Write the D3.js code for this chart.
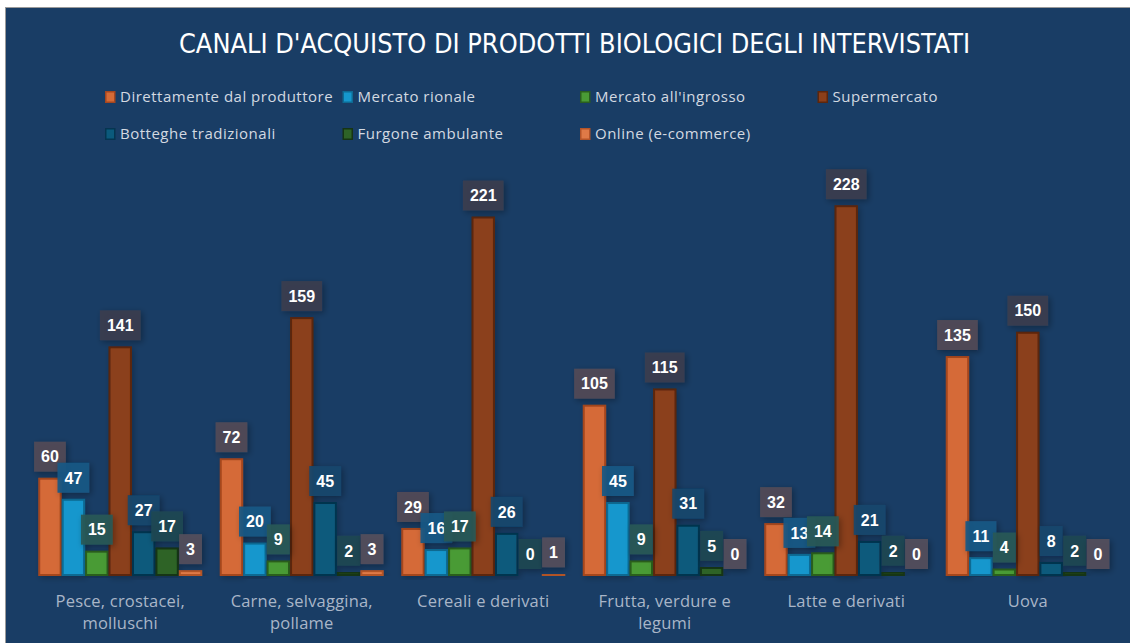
<!DOCTYPE html>
<html>
<head>
<meta charset="utf-8">
<script src="https://cdn.jsdelivr.net/npm/d3@7"></script>
<style>
  html, body { margin: 0; padding: 0; background: #ffffff; }
  svg { display: block; }
</style>
</head>
<body>
<svg id="chart" width="1130" height="643"></svg>
<script>
// ---- DATA ----
const title = "CANALI D'ACQUISTO DI PRODOTTI BIOLOGICI DEGLI INTERVISTATI";
const categories = [
  "Pesce, crostacei, molluschi",
  "Carne, selvaggina, pollame",
  "Cereali e derivati",
  "Frutta, verdure e legumi",
  "Latte e derivati",
  "Uova"
];
const seriesNames = [
  "Direttamente dal produttore",
  "Mercato rionale",
  "Mercato all'ingrosso",
  "Supermercato",
  "Botteghe tradizionali",
  "Furgone ambulante",
  "Online (e-commerce)"
];
const direttamente   = [60, 72, 29, 105, 32, 135];
const mercatoRionale = [47, 20, 16, 45, 13, 11];
const ingrosso       = [15, 9, 17, 9, 14, 4];
const supermercato   = [141, 159, 221, 115, 228, 150];
const botteghe       = [27, 45, 26, 31, 21, 8];
const furgone        = [17, 2, 0, 5, 2, 2];
const online         = [3, 3, 1, 0, 0, 0];
const seriesValues = [direttamente, mercatoRionale, ingrosso, supermercato, botteghe, furgone, online];
const yTicks = [0, 50, 100, 150, 200, 250];

// ---- STYLE ----
const fills   = ["#d56b37", "#1597cd", "#4a9b35", "#8b3f1a", "#0b5a7c", "#2e6327", "#df7a47"];
const strokes = ["#a5461f", "#0f6a93", "#2a5e1f", "#5c260c", "#053550", "#163414", "#b45428"];
const bg = "#193d65";

const svg = d3.select("#chart");
const W = 1130, H = 643;

const defs = svg.append("defs");
const f = defs.append("filter").attr("id", "shadow")
  .attr("x", "-30%").attr("y", "-30%").attr("width", "170%").attr("height", "170%");
f.append("feDropShadow").attr("dx", 2).attr("dy", 2).attr("stdDeviation", 3)
  .attr("flood-color", "#000").attr("flood-opacity", 0.35);
const f2 = defs.append("filter").attr("id", "barshadow")
  .attr("x", "-30%").attr("y", "-10%").attr("width", "170%").attr("height", "120%");
f2.append("feDropShadow").attr("dx", 2).attr("dy", 2).attr("stdDeviation", 3)
  .attr("flood-color", "#000").attr("flood-opacity", 0.25);

// background
svg.append("rect").attr("x", 5.5).attr("y", 7.5).attr("width", W).attr("height", H)
  .attr("fill", bg).attr("stroke", "#9a9a9a").attr("stroke-width", 1);

// title
svg.append("text")
  .attr("x", 574.5).attr("y", 53)
  .attr("text-anchor", "middle")
  .attr("fill", "#ffffff")
  .style("font-family", "'Liberation Sans Narrow','DejaVu Sans Condensed','Liberation Sans',sans-serif")
  .style("font-size", "26px")
  .attr("textLength", 791)
  .attr("lengthAdjust", "spacingAndGlyphs")
  .text(title);

// legend
const legendX0 = 105, legendColW = 237.5, legendRowY = [97, 134];
const lg = svg.append("g");
seriesNames.forEach((name, i) => {
  const col = i < 4 ? i : i - 4;
  const row = i < 4 ? 0 : 1;
  const x = legendX0 + col * legendColW;
  const yy = legendRowY[row];
  lg.append("rect").attr("x", x + 0.75).attr("y", yy - 5.25).attr("width", 9).attr("height", 10.5)
    .attr("fill", fills[i]).attr("stroke", strokes[i]).attr("stroke-width", 1.5);
  lg.append("text").attr("x", x + 15).attr("y", yy).attr("dy", "0.35em")
    .attr("fill", "#d3d9e1")
    .style("font-family", "'Open Sans',sans-serif")
    .style("font-size", "15px")
    .style("letter-spacing", "0.5px")
    .text(name);
});

// scales
const x0 = d3.scaleBand().domain(categories).range([29.5, 1118.5]).paddingInner(0.0964).paddingOuter(0.0482);
const x1 = d3.scaleBand().domain(seriesNames).range([0, x0.bandwidth()]).padding(0);
const y = d3.scaleLinear().domain([yTicks[0], yTicks[yTicks.length - 1]]).range([576, 170.5]);

// bars
const barsG = svg.append("g");
seriesNames.forEach((s, si) => {
  const vals = seriesValues[si];
  barsG.selectAll(null).data(categories).enter().append("rect")
    .filter((c, ci) => vals[ci] > 0)
    .attr("x", c => x0(c) + x1(s) + 1)
    .attr("y", (c) => y(vals[categories.indexOf(c)]))
    .attr("width", x1.bandwidth() - 2)
    .attr("height", c => Math.max(0.1, y(0) - y(vals[categories.indexOf(c)]) - 1))
    .attr("fill", fills[si])
    .attr("stroke", strokes[si])
    .attr("stroke-width", 2)
    .attr("filter", "url(#barshadow)");
});

// data labels
const labG = svg.append("g");
seriesNames.forEach((s, si) => {
  const vals = seriesValues[si];
  categories.forEach((c, ci) => {
    const v = vals[ci];
    const cx = x0(c) + x1(s) + x1.bandwidth() / 2;
    const g = labG.append("g");
    const t = g.append("text")
      .attr("x", cx).attr("y", y(v) - 7 - 15).attr("dy", "0.36em")
      .attr("text-anchor", "middle")
      .attr("fill", "#ffffff")
      .style("font-family", "'Liberation Sans',Arial,sans-serif")
      .style("font-weight", "bold")
      .style("font-size", "16px")
      .text(v);
    const tw = t.node().getComputedTextLength();
    g.insert("rect", "text")
      .attr("x", cx - tw / 2 - 7).attr("y", y(v) - 7 - 30)
      .attr("width", tw + 14).attr("height", 30)
      .attr("fill", d3.interpolateRgb(bg, fills[si])(0.3))
      .attr("fill-opacity", 0.92)
      .attr("filter", "url(#shadow)");
  });
});

// x axis labels (wrapped)
const axG = svg.append("g");
const maxW = 160;
categories.forEach(c => {
  const cx = x0(c) + x0.bandwidth() / 2;
  const t = axG.append("text")
    .attr("x", cx).attr("y", 607)
    .attr("text-anchor", "middle")
    .attr("fill", "#a9b6c8")
    .style("font-family", "'Open Sans',sans-serif")
    .style("font-size", "16.5px")
    .style("letter-spacing", "0.2px");
  const words = c.split(" ");
  let line = [];
  let ts = t.append("tspan").attr("x", cx).attr("dy", 0);
  words.forEach(w => {
    line.push(w);
    ts.text(line.join(" "));
    if (ts.node().getComputedTextLength() > maxW && line.length > 1) {
      line.pop();
      ts.text(line.join(" "));
      line = [w];
      ts = t.append("tspan").attr("x", cx).attr("dy", 21.5).text(w);
    }
  });
});
</script>
</body>
</html>
